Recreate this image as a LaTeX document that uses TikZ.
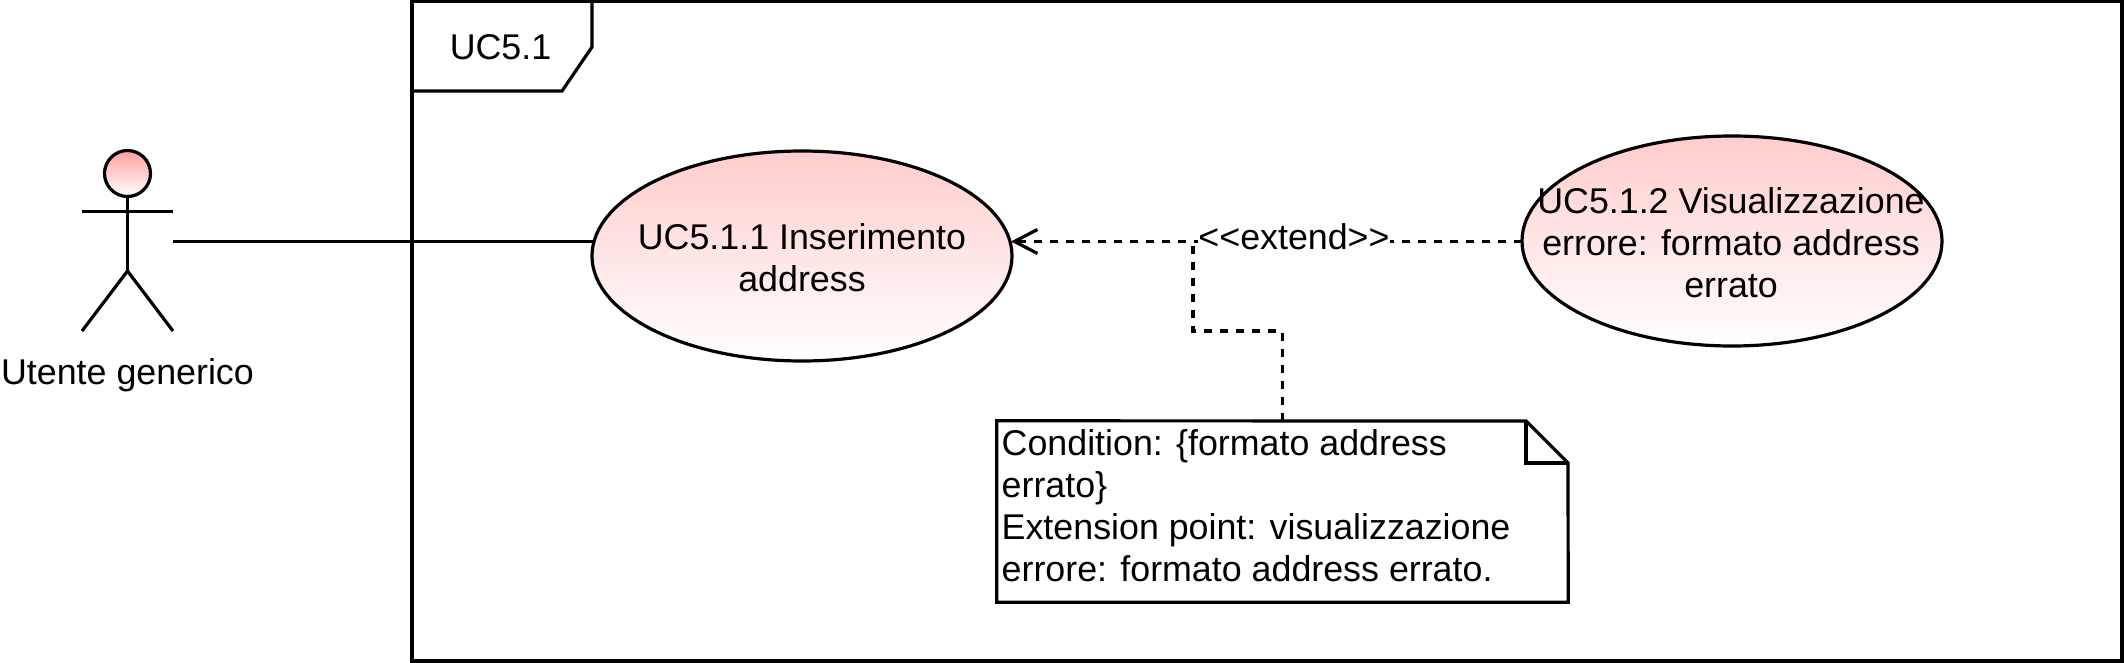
\documentclass[tikz,border=0pt]{standalone}
\usepackage{fontspec}
\setmainfont{Liberation Sans}
\usetikzlibrary{shapes.geometric,arrows.meta}
\definecolor{ucpink}{HTML}{FFCCCC}
\definecolor{headpink}{HTML}{FF9F9F}
\tikzset{
  base/.style={line width=3.2pt,draw=black},
  txt/.style={font=\fontsize{35.8}{42}\selectfont,inner sep=0pt,text=black,align=left},
  usecase/.style={base,ellipse,inner sep=0pt,minimum width=420pt,minimum height=210pt,
    top color=ucpink,bottom color=white},
  uclabel/.style={txt,align=center},
  dashline/.style={base,dash pattern=on 8pt off 8pt}
}
\begin{document}
\begin{tikzpicture}[x=1pt,y=-1pt]
\useasboundingbox (0,0) rectangle (2124,663);
% frame
\draw[base] (412,1.5) rectangle (2122,661);
\draw[base] (412,91) -- (562,91) -- (592,47) -- (592,1.5);
\node[txt] (frametitle) at (500.5,47.5) {UC5.1};
% actor
\node[base,ellipse,inner sep=0pt,minimum width=46pt,minimum height=46pt,top color=headpink,bottom color=white] (head) at (127.5,173.5) {};
\coordinate (hip) at (127.5,271);
\coordinate (armL) at (82,211.5);
\coordinate (armR) at (173,211.5);
\coordinate (footL) at (82,331);
\coordinate (footR) at (173,331);
\draw[base] (head.south) -- (hip);
\draw[base] (armL) -- (armR);
\draw[base] (footL) -- (hip) -- (footR);
\node[txt] (actorlabel) at (127.5,375) {Utente generico};
% use cases
\coordinate (hand) at (173,241.5);
\node[usecase] (uc1) at (802,256) {};
\node[uclabel] (uc1text) at (802,257.5) {UC5.1.1 Inserimento\\address};
\node[usecase] (uc2) at (1732,241) {};
\node[uclabel] (uc2text) at (1731,242.5) {UC5.1.2 Visualizzazione\\errore: formato address\\errato};
\coordinate (uc1in) at (594,241.5);
\coordinate (uc1tip) at (1011,241.5);
\draw[base] (hand) -- (uc1in);
% extend
\coordinate (uc2in) at (1522,241.5);
\draw[dashline,-{Straight Barb[length=23pt,width=24pt,line width=3.2pt]}] (uc2in) -- (uc1tip);
\node[txt,fill=white,inner xsep=0pt,inner ysep=1pt] (ext) at (1294,236.5) {<{}<extend>{}>};
% note
\node[minimum width=571pt,minimum height=181pt,inner sep=0pt] (note) at (1282.5,511.5) {};
\coordinate (foldA) at (1526,421);
\coordinate (foldB) at (1568,463);
\coordinate (foldC) at (1526,463);
\draw[base,fill=white] (note.north west) -- (foldA) -- (foldB) -- (note.south east) -- (note.south west) -- cycle;
\draw[base] (foldA) -- (foldC) -- (foldB);
\node[txt,anchor=north west] (notetext) at (1001.5,429.5) {Condition: \{formato address\\errato\}\\Extension point: visualizzazione\\errore: formato address errato.};
\coordinate (bendA) at (1282.5,331);
\coordinate (bendB) at (1193,331);
\coordinate (bendC) at (1193,241.5);
\draw[dashline] (note.north) -- (bendA) -- (bendB) -- (bendC);
\end{tikzpicture}
\end{document}
